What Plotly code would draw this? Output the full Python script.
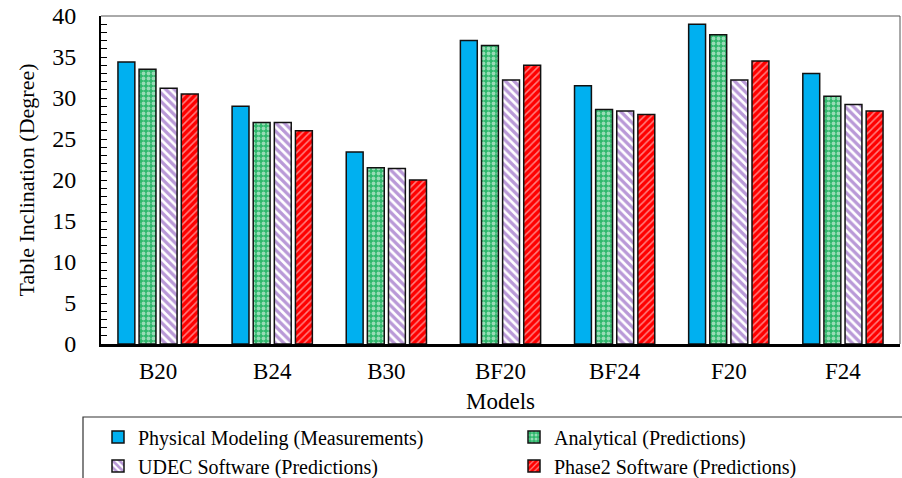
import plotly.graph_objects as go

models = ["B20", "B24", "B30", "BF20", "BF24", "F20", "F24"]
physical = [34.4, 29.0, 23.4, 37.0, 31.5, 39.0, 33.0]
analytical = [33.5, 27.0, 21.5, 36.4, 28.6, 37.7, 30.2]
udec = [31.2, 27.0, 21.4, 32.2, 28.4, 32.2, 29.2]
phase2 = [30.5, 26.0, 20.0, 34.0, 28.0, 34.5, 28.4]

names = ["Physical Modeling (Measurements)", "Analytical (Predictions)",
         "UDEC Software (Predictions)", "Phase2 Software (Predictions)"]

FONT = "Liberation Serif"
W, H = 902, 478
ML, MR, MT, MB = 101, 2, 16, 134

fig = go.Figure()
line = dict(color="#111111", width=1.5)
fig.add_trace(go.Bar(x=models, y=physical, name=names[0],
                     marker=dict(color="#00B0F0", line=line)))
fig.add_trace(go.Bar(x=models, y=analytical, name=names[1],
                     marker=dict(color="#2FB86C", line=line,
                                 pattern=dict(shape=".", fgcolor="white", bgcolor="#2FB86C",
                                              size=5, solidity=0.45))))
fig.add_trace(go.Bar(x=models, y=udec, name=names[2],
                     marker=dict(color="white", line=line,
                                 pattern=dict(shape="\\", fgcolor="#7434B0", bgcolor="white",
                                              size=6, solidity=0.55))))
fig.add_trace(go.Bar(x=models, y=phase2, name=names[3],
                     marker=dict(color="#FF0000", line=line,
                                 pattern=dict(shape="/", fgcolor="white", bgcolor="#FF0000",
                                              size=5, solidity=0.3))))

pw = W - ML - MR
ph = H - MT - MB
def px2x(p):
    return (p - ML) / pw
def px2y(p):
    return (H - MB - p) / ph

# legend frame
fig.add_shape(type="rect", xref="paper", yref="paper",
              x0=px2x(83), x1=px2x(912), y0=px2y(417), y1=px2y(490),
              line=dict(color="#333333", width=1.2), fillcolor="rgba(0,0,0,0)")

fig.update_layout(
    width=W, height=H,
    margin=dict(l=ML, r=MR, t=MT, b=MB, autoexpand=False),
    paper_bgcolor="white", plot_bgcolor="white",
    barmode="group", bargap=0.26, bargroupgap=0.2,
    font=dict(family=FONT, size=24, color="black"),
    showlegend=True,
    legend=dict(orientation="h", x=px2x(98), xanchor="left",
                y=px2y(417.5), yanchor="top",
                entrywidth=371, entrywidthmode="pixels",
                font=dict(family=FONT, size=20, color="black"),
                bgcolor="rgba(0,0,0,0)", borderwidth=0,
                traceorder="normal", itemwidth=30, tracegroupgap=0),
    xaxis=dict(showline=True, linecolor="black", linewidth=2.5, mirror=False,
               ticks="", tickfont=dict(family=FONT, size=23),
               title=dict(text="Models", font=dict(family=FONT, size=23), standoff=10),
               ticklabelstandoff=5),
    yaxis=dict(range=[0, 40], dtick=5, showline=True, linecolor="black", linewidth=2,
               ticks="inside", ticklen=6, tickcolor="black", tickwidth=1.2,
               minor=dict(dtick=1, ticks="inside", ticklen=6, tickcolor="black", tickwidth=1.2),
               showgrid=False, zeroline=False,
               tickfont=dict(family=FONT, size=24),
               ticklabelstandoff=18,
               title=dict(text="Table Inclination (Degree)", font=dict(family=FONT, size=22),
                          standoff=12)),
)
# thin top and right frame of plot area
fig.add_shape(type="line", xref="paper", yref="paper", x0=0, x1=1, y0=1, y1=1,
              line=dict(color="#555555", width=1))
fig.add_shape(type="line", xref="paper", yref="paper", x0=1, x1=1, y0=0, y1=1,
              line=dict(color="#555555", width=1))

fig.write_html("out.html", config={"displayModeBar": False},
               post_script="document.body.style.margin='0';document.body.style.padding='0';document.body.style.overflow='hidden';")
